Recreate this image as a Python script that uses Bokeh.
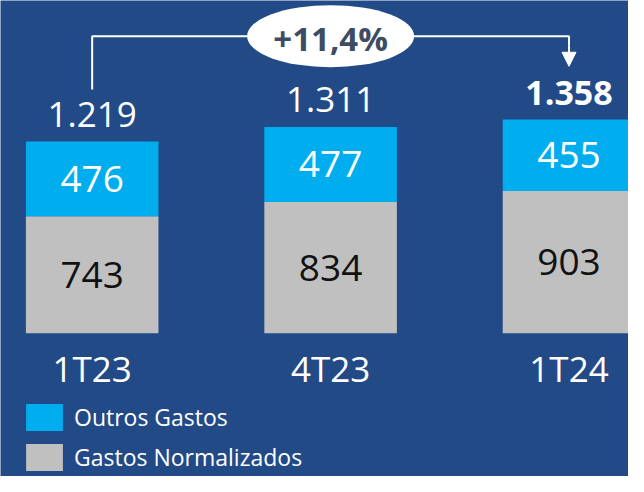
from bokeh.plotting import figure
from bokeh.models import ColumnDataSource, Range1d, Legend, LegendItem, Arrow, NormalHead
from bokeh.core.properties import value
from bokeh.embed import file_html
from bokeh.resources import INLINE

# ---- data ----
categories = ["1T23", "4T23", "1T24"]
gastos_normalizados = [743, 834, 903]
outros_gastos = [476, 477, 455]
totals_labels = ["1.219", "1.311", "1.358"]
totals_styles = ["normal", "normal", "bold"]
growth_label = "+11,4%"
series_names = ["Outros Gastos", "Gastos Normalizados"]

BG = "#224a87"
CYAN = "#00adef"
GREY = "#c0c0c0"
FONT = "Open Sans"

xs = list(range(len(categories)))
totals = [a + b for a, b in zip(gastos_normalizados, outros_gastos)]

src = ColumnDataSource(dict(
    x=xs,
    cat=categories,
    gn=gastos_normalizados,
    og=outros_gastos,
    total=totals,
    gn_mid=[g / 2 for g in gastos_normalizados],
    og_mid=[g + o / 2 for g, o in zip(gastos_normalizados, outros_gastos)],
    gn_lbl=[str(v) for v in gastos_normalizados],
    og_lbl=[str(v) for v in outros_gastos],
    tot_lbl=totals_labels,
    tot_style=totals_styles,
    tot_size=["35px" if s == "normal" else "34px" for s in totals_styles],
    zero=[0] * len(xs),
))

p = figure(width=628, height=476, output_backend="svg", toolbar_location=None,
           x_range=Range1d(-0.3845, 2.2495), y_range=Range1d(-910, 2114),
           min_border=0, background_fill_color=BG, border_fill_color=BG,
           outline_line_color=None)
p.axis.visible = False
p.grid.visible = False

bw = 0.556
r_gn = p.vbar(x="x", top="gn", bottom=0, width=bw, source=src,
              fill_color=GREY, line_color=None)
r_og = p.vbar(x="x", top="total", bottom="gn", width=bw, source=src,
              fill_color=CYAN, line_color=None)

# values inside bars
p.text(x="x", y="gn_mid", text="gn_lbl", source=src, text_align="center",
       text_baseline="middle", text_color="#111111", text_font=value(FONT),
       text_font_size="37px")
p.text(x="x", y="og_mid", text="og_lbl", source=src, text_align="center",
       text_baseline="middle", text_color="white", text_font=value(FONT),
       text_font_size="37px")

# totals above bars
p.text(x="x", y="total", text="tot_lbl", source=src, text_align="center",
       text_baseline="middle", y_offset=-27, text_color="white",
       text_font=value(FONT), text_font_size="tot_size", text_font_style="tot_style")

# category labels
p.text(x="x", y="zero", text="cat", source=src, text_align="center",
       text_baseline="middle", y_offset=35, text_color="white",
       text_font=value(FONT), text_font_size="35px")

# growth bracket
y_br = totals[-1] + 529
p.line(x=[xs[0], xs[0], xs[-1], xs[-1]],
       y=[totals[0] + 330, y_br, y_br, y_br - 60],
       line_color="white", line_width=2)
p.add_layout(Arrow(end=NormalHead(size=14, fill_color="white", line_color="white"),
                   x_start=xs[-1], y_start=y_br - 60, x_end=xs[-1], y_end=totals[-1] + 338,
                   line_color="white", line_width=2))
p.ellipse(x=[xs[1]], y=[y_br], width=167, height=62, width_units="screen",
          height_units="screen", fill_color="white", line_color=None)
p.text(x=[xs[1]], y=[y_br], text=[growth_label], text_align="center",
       text_baseline="middle", y_offset=2, text_color="#3d4b63",
       text_font=value(FONT), text_font_size="33px", text_font_style="bold")

legend = Legend(items=[LegendItem(label=series_names[0], renderers=[r_og]),
                       LegendItem(label=series_names[1], renderers=[r_gn])],
                location=(21, 2), glyph_width=46, glyph_height=34, label_standoff=7,
                spacing=6, padding=0, margin=0, border_line_color=None,
                background_fill_alpha=0, label_text_color="white",
                label_text_font=FONT, label_text_font_size="23px")
p.add_layout(legend, "center")

html = file_html(p, INLINE)
html = html.replace("<body>", '<body style="background-color:%s;">' % BG, 1)
open("out.html", "w").write(html)
